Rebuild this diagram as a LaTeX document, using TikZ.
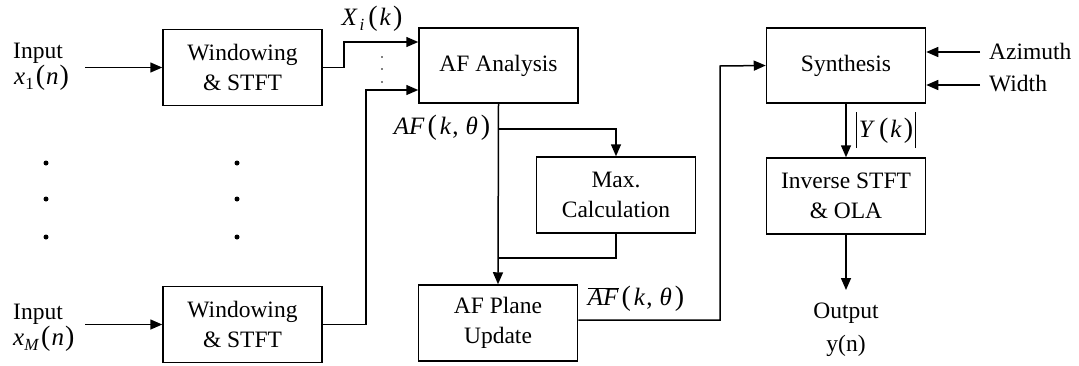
\documentclass[tikz,border=0pt]{standalone}
\usepackage{fontspec}
\setmainfont{Liberation Serif}
\usetikzlibrary{arrows.meta}
\newcommand{\vi}[1]{\textit{#1}}
\newcommand{\absbar}{\rule[-0.42em]{1.1pt}{1.45em}}
\newcommand{\lpar}{{\fontsize{28}{28}\selectfont(}}
\newcommand{\rpar}{{\fontsize{28}{28}\selectfont)}}
\newcommand{\gap}[1]{\hspace{#1pt}}
\newcommand{\sub}[1]{\raisebox{-5pt}{\fontsize{17}{17}\selectfont#1}}
\begin{document}
\begin{tikzpicture}[x=1pt,y=-1pt,
  font=\fontsize{23.5}{29.5}\selectfont,
  blk/.style={draw,line width=1.5pt,minimum width=159pt,minimum height=76pt,
    align=center,inner sep=2pt},
  wire/.style={line width=1.5pt},
  arr/.style={wire,-{Triangle[length=12pt,width=10pt]}},
  lbl/.style={inner sep=0pt,align=left},
  mlbl/.style={lbl,font=\fontsize{25}{30}\selectfont},
  dotmark/.style={circle,fill,inner sep=0pt,minimum size=5pt},
  smalldot/.style={circle,fill,inner sep=0pt,minimum size=1.8pt}]
\useasboundingbox (0,0) rectangle (1079,365);

% processing blocks
\node[blk] (win1) at (242.5,67.5) {Windowing\\\& STFT};
\node[blk] (winM) at (242.5,324.5) {Windowing\\\& STFT};
\node[blk,minimum height=75pt] (afa) at (498.5,65.5) {AF Analysis};
\node[blk] (maxc) at (616,195) {Max.\\Calculation};
\node[blk] (afp) at (498,323) {AF Plane\\Update};
\node[blk,minimum height=75pt] (syn) at (846,65.5) {Synthesis};
\node[blk] (inv) at (846,196) {Inverse STFT\\\& OLA};

% inputs
\node[lbl,anchor=base west] (in1a) at (13,58) {Input};
\node[mlbl,anchor=base west] (in1b) at (14,84)
  {\vi{x}\sub{1}\gap{2}\lpar\gap{1}\vi{n}\gap{1}\rpar};
\node[lbl,anchor=base west] (inMa) at (13,319) {Input};
\node[mlbl,anchor=base west] (inMb) at (13,345)
  {\vi{x}\sub{\vi{M}}\gap{2}\lpar\gap{1}\vi{n}\gap{1}\rpar};
\coordinate (s1) at (85,67.5);
\coordinate (sM) at (85,324.5);
\draw[arr] (s1) -- (win1.west);
\draw[arr] (sM) -- (winM.west);

% ellipsis dots between the channels
\foreach \yy [count=\i] in {163,199,237}{
  \node[dotmark] (dl\i) at (46,\yy) {};
  \node[dotmark] (dr\i) at (237,\yy) {};
}
\foreach \yy [count=\i] in {57,69,82}{
  \node[smalldot] (dm\i) at (382,\yy) {};
}

% spectra into the analysis block
\draw[arr] (win1.east) -- ++(21,0) |- ([yshift=23.5pt]afa.west);
\draw[arr] (winM.east) -- ++(43,0) |- ([yshift=-24.5pt]afa.west);
\node[mlbl] (xik) at (372,19)
  {\vi{X}\gap{2}\sub{\vi{i}}\gap{4}\lpar\gap{2}\vi{k}\gap{2}\rpar};

% analysis, maximum search and plane update
\coordinate (br) at (498,129);
\coordinate (mj) at (498,258);
\draw[arr] (afa.south) -- (afp.north);
\draw[arr] (br) -| (maxc.north);
\draw[wire] (maxc.south) |- (mj);
\node[mlbl] (afk) at (442,128)
  {\vi{AF}\gap{3}\lpar\gap{3}\vi{k}\gap{1},\gap{7}\vi{θ}\gap{3}\rpar};

% updated plane to synthesis
\coordinate (up) at (720,66);
\draw[arr] ([yshift=3pt]afp.east) -| (up) -- (syn.west);
\node[mlbl] (afbar) at (636,299)
  {$\overline{\hbox{\vi{AF}}}$\gap{3}\lpar\gap{3}\vi{k}\gap{1},\gap{7}\vi{θ}\gap{3}\rpar};

% control inputs
\coordinate (az) at (980,52);
\coordinate (wd) at (980,85);
\draw[arr] (az) -- (az -| syn.east);
\draw[arr] (wd) -- (wd -| syn.east);
\node[lbl,anchor=west] (azl) at (989,51) {Azimuth};
\node[lbl,anchor=west] (wdl) at (989,84) {Width};

% synthesis to output
\draw[arr] (syn.south) -- (inv.north);
\node[mlbl] (yk) at (886,130)
  {\absbar\gap{2}\vi{Y}\gap{4}\lpar\gap{2}\vi{k}\gap{2}\rpar\gap{2}\absbar};
\coordinate (out) at (846,290);
\draw[arr] (inv.south) -- (out);
\node[lbl,anchor=base] (outl) at (846,318) {Output};
\node[lbl,anchor=base] (outy) at (846,351) {y(n)};
\end{tikzpicture}
\end{document}
